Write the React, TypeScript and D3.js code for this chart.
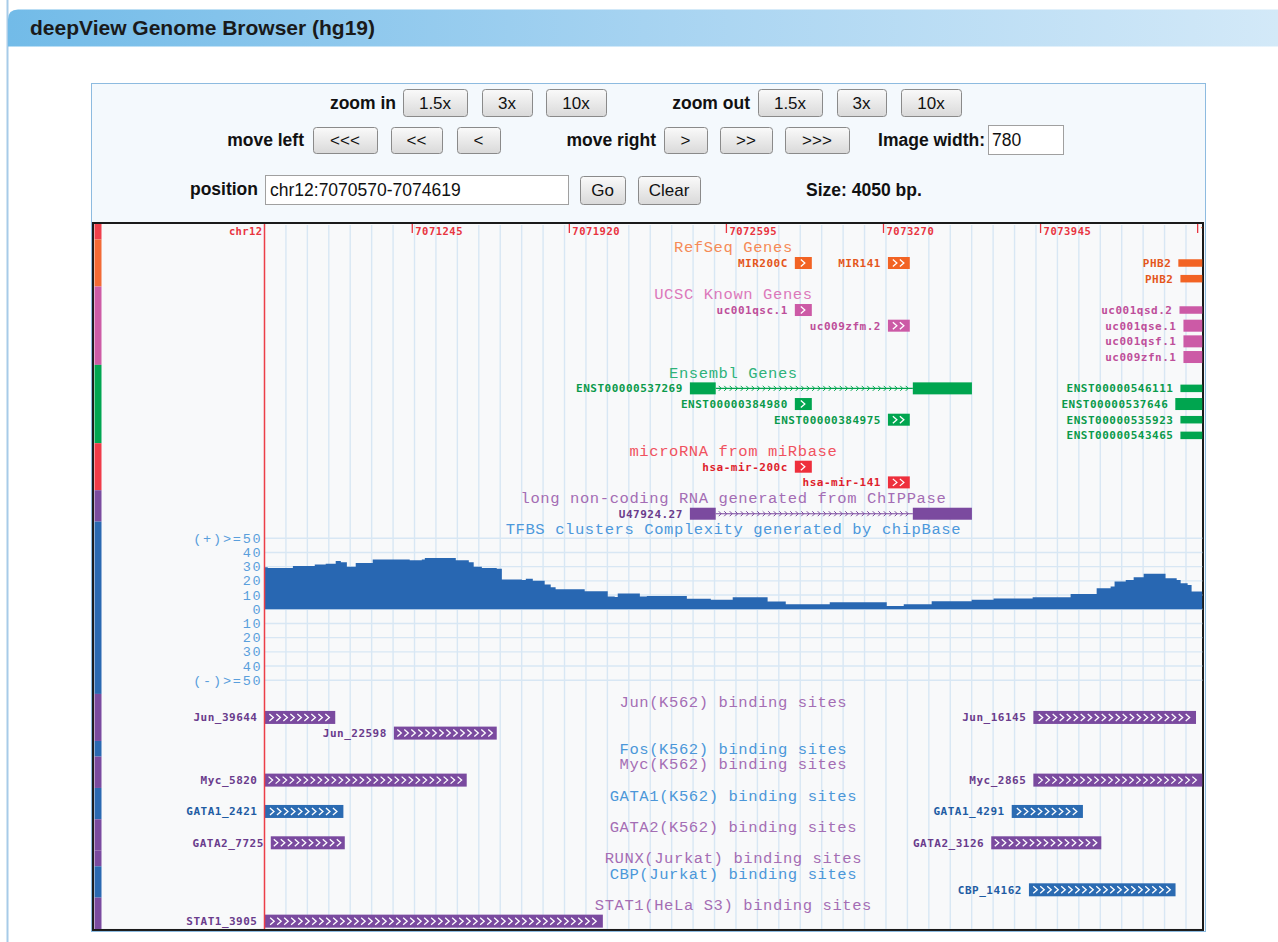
import React from "react";
import * as d3 from "d3";

// ---- data ----
const VIEW_START = 7070610;
const VIEW_END = 7074640;
const CHROM = "chr12";
const POSITION = "chr12:7070570-7074619";
const SIZE_BP = 4050;
const IMAGE_WIDTH = 780;

const rulerTicks = [7071245, 7071920, 7072595, 7073270, 7073945, 7074620];

type Feature = {
  name: string;
  start: number;
  end: number;
  lane: number;
  utr?: boolean;
  exons?: [number, number][];
};

const refSeqGenes: Feature[] = [
  { name: "MIR200C", start: 7072889, end: 7072962, lane: 0 },
  { name: "MIR141", start: 7073289, end: 7073383, lane: 0 },
  { name: "PHB2", start: 7074537, end: 7074700, lane: 0, utr: true },
  { name: "PHB2", start: 7074546, end: 7074700, lane: 1, utr: true },
];

const ucscGenes: Feature[] = [
  { name: "uc001qsc.1", start: 7072889, end: 7072962, lane: 0 },
  { name: "uc009zfm.2", start: 7073289, end: 7073383, lane: 1 },
  { name: "uc001qsd.2", start: 7074542, end: 7074700, lane: 0, utr: true },
  { name: "uc001qse.1", start: 7074559, end: 7074700, lane: 1 },
  { name: "uc001qsf.1", start: 7074559, end: 7074700, lane: 2 },
  { name: "uc009zfn.1", start: 7074559, end: 7074700, lane: 3 },
];

const ensemblGenes: Feature[] = [
  {
    name: "ENST00000537269",
    start: 7072438,
    end: 7073650,
    lane: 0,
    exons: [
      [7072438, 7072549],
      [7073396, 7073650],
    ],
  },
  { name: "ENST00000384980", start: 7072889, end: 7072962, lane: 1 },
  { name: "ENST00000384975", start: 7073289, end: 7073383, lane: 2 },
  { name: "ENST00000546111", start: 7074546, end: 7074700, lane: 0, utr: true },
  { name: "ENST00000537646", start: 7074524, end: 7074700, lane: 1 },
  { name: "ENST00000535923", start: 7074546, end: 7074700, lane: 2, utr: true },
  { name: "ENST00000543465", start: 7074546, end: 7074700, lane: 3, utr: true },
];

const mirnas: Feature[] = [
  { name: "hsa-mir-200c", start: 7072889, end: 7072962, lane: 0 },
  { name: "hsa-mir-141", start: 7073289, end: 7073383, lane: 1 },
];

const lncrnas: Feature[] = [
  {
    name: "U47924.27",
    start: 7072438,
    end: 7073650,
    lane: 0,
    exons: [
      [7072438, 7072549],
      [7073396, 7073650],
    ],
  },
];

// TFBS cluster complexity, [position, value]
const complexity: [number, number][] = [
  [7070607, 29.5], [7070624, 29], [7070732, 30.5], [7070826, 31.5], [7070873, 32],
  [7070916, 34], [7070938, 33], [7070964, 30], [7071002, 32.5], [7071075, 35],
  [7071234, 34.5], [7071286, 35], [7071299, 36], [7071432, 34.5], [7071488, 33],
  [7071509, 30], [7071544, 29], [7071608, 28.5], [7071630, 21], [7071716, 20.6],
  [7071733, 21.5], [7071763, 20], [7071814, 17.5], [7071840, 15.5], [7071861, 14],
  [7071986, 12.6], [7072085, 9], [7072115, 8.7], [7072128, 11], [7072223, 9],
  [7072253, 9.4], [7072425, 7.3], [7072528, 6.6], [7072622, 8.5], [7072772, 5.4],
  [7072850, 3.5], [7073039, 4.9], [7073284, 2.3], [7073357, 3.5], [7073477, 5.6],
  [7073649, 6.6], [7073743, 7.5], [7073911, 8.5], [7074074, 10.8], [7074186, 14.8],
  [7074246, 16], [7074263, 19.5], [7074311, 20.5], [7074345, 22.5], [7074388, 24.9],
  [7074482, 21.8], [7074530, 20.5], [7074547, 18.3], [7074577, 17], [7074594, 12.4],
  [7074641, 11],
];
const complexityTicks = [50, 40, 30, 20, 10, 0, -10, -20, -30, -40, -50];

const junSites: Feature[] = [
  { name: "Jun_39644", start: 7070500, end: 7070914, lane: 0 },
  { name: "Jun_22598", start: 7071166, end: 7071608, lane: 1 },
  { name: "Jun_16145", start: 7073914, end: 7074613, lane: 0 },
];
const fosSites: Feature[] = [];
const mycSites: Feature[] = [
  { name: "Myc_5820", start: 7070500, end: 7071479, lane: 0 },
  { name: "Myc_2865", start: 7073914, end: 7074700, lane: 0 },
];
const gata1Sites: Feature[] = [
  { name: "GATA1_2421", start: 7070500, end: 7070949, lane: 0 },
  { name: "GATA1_4291", start: 7073821, end: 7074127, lane: 0 },
];
const gata2Sites: Feature[] = [
  { name: "GATA2_7725", start: 7070637, end: 7070955, lane: 0 },
  { name: "GATA2_3126", start: 7073733, end: 7074206, lane: 0 },
];
const runxSites: Feature[] = [];
const cbpSites: Feature[] = [{ name: "CBP_14162", start: 7073895, end: 7074525, lane: 0 }];
const stat1Sites: Feature[] = [{ name: "STAT1_3905", start: 7070500, end: 7072064, lane: 0 }];

// ---- styling ----
const PURPLE = { bar: "#7a4a9f", label: "#6a3c8c", titleColor: "#a46db4", strip: "#7a4a9f" };
const BLUE = { bar: "#2b6bb2", label: "#1f5ca3", titleColor: "#4b97d9", strip: "#2a69b1" };

const geneTracks = [
  { title: "RefSeq Genes", features: refSeqGenes, lanes: 2, bar: "#f26324", label: "#e4561c", titleColor: "#f58b57", strip: "#f26a35" },
  { title: "UCSC Known Genes", features: ucscGenes, lanes: 4, bar: "#cc5aa6", label: "#be4f9a", titleColor: "#dc78ba", strip: "#cd5ca6" },
  { title: "Ensembl Genes", features: ensemblGenes, lanes: 4, bar: "#00a54f", label: "#0a9a4a", titleColor: "#2db27a", strip: "#00a651" },
  { title: "microRNA from miRbase", features: mirnas, lanes: 2, bar: "#ee2f3c", label: "#de1f2d", titleColor: "#f0525f", strip: "#ef3b49" },
  { title: "long non-coding RNA generated from ChIPPase", features: lncrnas, lanes: 1, bar: "#7b4a9f", label: "#6a3c8c", titleColor: "#a46db4", strip: "#7a4c9f" },
];

const bindingTracks = [
  { title: "Jun(K562) binding sites", features: junSites, lanes: 2, ...PURPLE },
  { title: "Fos(K562) binding sites", features: fosSites, lanes: 0, ...BLUE },
  { title: "Myc(K562) binding sites", features: mycSites, lanes: 1, ...PURPLE },
  { title: "GATA1(K562) binding sites", features: gata1Sites, lanes: 1, ...BLUE },
  { title: "GATA2(K562) binding sites", features: gata2Sites, lanes: 1, ...PURPLE },
  { title: "RUNX(Jurkat) binding sites", features: runxSites, lanes: 0, ...PURPLE },
  { title: "CBP(Jurkat) binding sites", features: cbpSites, lanes: 1, ...BLUE },
  { title: "STAT1(HeLa S3) binding sites", features: stat1Sites, lanes: 1, ...PURPLE },
];

const MONO = "'Liberation Mono', 'DejaVu Sans Mono', monospace";
const PIX = "'DejaVu Sans Mono', monospace";
const SANS = "'Liberation Sans', Arial, sans-serif";

const LINE = 15.67;
const Y0 = 239.5;
const lineTop = (i: number) => Y0 + i * LINE;
const lineMid = (i: number) => Y0 + (i + 0.5) * LINE;

function Button({ x, y, w, h, label }: { x: number; y: number; w: number; h: number; label: string }) {
  return (
    <g>
      <rect x={x + 0.5} y={y + 0.5} width={w} height={h} rx={3} fill="url(#btn)" stroke="#8a8a8a" />
      <text x={x + w / 2} y={y + h / 2 + 6} textAnchor="middle" fontSize={17} fontFamily={SANS} fill="#111">
        {label}
      </text>
    </g>
  );
}

export default function App() {
  const x = d3.scaleLinear().domain([VIEW_START, VIEW_END]).range([264.5, 1202.3]);
  const dataLeft = x(VIEW_START);
  const dataRight = x(VIEW_END);
  const mid = (dataLeft + dataRight) / 2;

  // line layout
  let line = 0;
  const genes = geneTracks.map((t) => {
    const b = { ...t, line };
    line += 1 + t.lanes;
    return b;
  });
  const tfbsLine = line;
  line += 11;
  const binding = bindingTracks.map((t) => {
    const b = { ...t, line };
    line += 1 + t.lanes;
    return b;
  });
  const totalLines = line;

  const yCov = d3
    .scaleLinear()
    .domain([-50, 50])
    .range([lineTop(tfbsLine + 1) + 1 + 142, lineTop(tfbsLine + 1) + 1]);
  const area = d3
    .area<[number, number]>()
    .x((d) => x(d[0]))
    .y0(yCov(0))
    .y1((d) => yCov(d[1]))
    .curve(d3.curveStepAfter);

  const gridStep = 21.43;
  const vGrid = d3.range(dataLeft + gridStep, dataRight, gridStep);

  const chevrons = (xs: number, w: number, cy: number, key: string) => {
    const n = Math.max(1, Math.floor((w - 4) / 7));
    const off = xs + (w - (n * 7 - 2)) / 2;
    return d3.range(n).map((i) => {
      const a = off + i * 7;
      return (
        <path
          key={key + i}
          d={`M${a},${cy - 3.5}L${a + 4},${cy}L${a},${cy + 3.5}`}
          fill="none"
          stroke="#fff"
          strokeWidth={1.3}
        />
      );
    });
  };

  const renderFeature = (
    f: Feature,
    cy: number,
    bar: string,
    label: string,
    thickH: number,
    arrowsAtEdge: boolean,
    key: string
  ) => {
    const xs = Math.max(x(f.start), dataLeft);
    const xe = Math.min(x(f.end), dataRight);
    const clippedRight = x(f.end) > dataRight;
    const els: React.ReactNode[] = [];
    if (f.exons) {
      const ex = f.exons;
      for (let i = 0; i < ex.length - 1; i++) {
        const a = x(ex[i][1]);
        const b = x(ex[i + 1][0]);
        els.push(<line key={key + "in" + i} x1={a} x2={b} y1={cy} y2={cy} stroke={bar} strokeWidth={1.2} />);
        const n = Math.floor((b - a - 4) / 5.5);
        d3.range(n).forEach((k) => {
          const p = a + 3 + k * 5.5;
          els.push(
            <path
              key={key + "ar" + i + "_" + k}
              d={`M${p},${cy - 2.5}L${p + 2.5},${cy}L${p},${cy + 2.5}`}
              fill="none"
              stroke={bar}
              strokeWidth={1}
            />
          );
        });
      }
      ex.forEach((e, i) =>
        els.push(
          <rect key={key + "ex" + i} x={x(e[0])} y={cy - thickH / 2} width={x(e[1]) - x(e[0])} height={thickH} fill={bar} />
        )
      );
    } else {
      const h = f.utr ? 7.5 : thickH;
      els.push(<rect key={key + "r"} x={xs} y={cy - h / 2} width={xe - xs} height={h} fill={bar} />);
      if (!f.utr && (arrowsAtEdge || !clippedRight)) els.push(...chevrons(xs, xe - xs, cy, key + "c"));
    }
    els.push(
      <text
        key={key + "t"}
        x={xs - 7}
        y={cy + 4}
        textAnchor="end"
        fontSize={11}
        fontWeight="bold"
        letterSpacing={0.5}
        fontFamily={PIX}
        fill={label}
      >
        {f.name}
      </text>
    );
    return <g key={key}>{els}</g>;
  };

  const title = (text: string, y: number, color: string, key: string) => (
    <text
      key={key}
      x={mid}
      y={y + 5}
      textAnchor="middle"
      fontSize={15.5}
      letterSpacing={0.6}
      fontFamily={MONO}
      fill={color}
    >
      {text}
    </text>
  );

  const trackTop = 222;
  const trackBottom = lineTop(totalLines);

  const strips: { y0: number; y1: number; color: string }[] = [
    { y0: trackTop + 2, y1: lineTop(0), color: "#ef3f4b" },
    ...genes.map((g) => ({ y0: lineTop(g.line), y1: lineTop(g.line + 1 + g.lanes), color: g.strip })),
    { y0: lineTop(tfbsLine), y1: lineTop(tfbsLine + 11), color: "#2a69b1" },
    ...binding.map((g) => ({ y0: lineTop(g.line), y1: lineTop(g.line + 1 + g.lanes), color: g.strip })),
  ];

  return (
    <svg
      width={1278}
      height={942}
      style={{ position: "absolute", left: 0, top: 0, background: "#fff" }}
      fontFamily={SANS}
    >
      <defs>
        <linearGradient id="hdr" x1="0" x2="1" y1="0" y2="0">
          <stop offset="0" stopColor="#72bbe8" />
          <stop offset="0.5" stopColor="#a6d3f1" />
          <stop offset="1" stopColor="#d3e9f8" />
        </linearGradient>
        <linearGradient id="btn" x1="0" x2="0" y1="0" y2="1">
          <stop offset="0" stopColor="#fafafa" />
          <stop offset="1" stopColor="#d9d9d9" />
        </linearGradient>
        <clipPath id="data">
          <rect x={dataLeft} y={trackTop} width={dataRight - dataLeft} height={trackBottom - trackTop} />
        </clipPath>
      </defs>

      {/* page frame + header */}
      <line x1={7.5} x2={7.5} y1={0} y2={942} stroke="#a7cbe8" strokeWidth={2} />
      <path d="M8,46.5 V19.5 Q8,9.5 18,9.5 H1278 V46.5 Z" fill="url(#hdr)" />
      <text x={30} y={35} fontSize={21} fontWeight="bold" fill="#1a1a1a">
        deepView Genome Browser (hg19)
      </text>

      {/* control panel */}
      <rect x={91.5} y={83.5} width={1114} height={848} fill="#f4f9fd" stroke="#8dbbe0" />
      <g fontSize={17.5} fontWeight="bold" fill="#111">
        <text x={396} y={109} textAnchor="end">zoom in</text>
        <text x={750} y={109} textAnchor="end">zoom out</text>
        <text x={304} y={146} textAnchor="end">move left</text>
        <text x={656} y={146} textAnchor="end">move right</text>
        <text x={985} y={146} textAnchor="end">Image width:</text>
        <text x={258} y={195} textAnchor="end">position</text>
        <text x={806} y={196}>Size: {SIZE_BP} bp.</text>
      </g>
      <Button x={403} y={89} w={64} h={27} label="1.5x" />
      <Button x={482} y={89} w={50} h={27} label="3x" />
      <Button x={546} y={89} w={60} h={27} label="10x" />
      <Button x={758} y={89} w={64} h={27} label="1.5x" />
      <Button x={837} y={89} w={49} h={27} label="3x" />
      <Button x={901} y={89} w={60} h={27} label="10x" />
      <Button x={313} y={127} w={64} h={26} label="<<<" />
      <Button x={391} y={127} w={51} h={26} label="<<" />
      <Button x={457} y={127} w={43} h={26} label="<" />
      <Button x={664} y={127} w={43} h={26} label=">" />
      <Button x={720} y={127} w={52} h={26} label=">>" />
      <Button x={785} y={127} w={64} h={26} label=">>>" />
      <rect x={988.5} y={125.5} width={75} height={29} fill="#fff" stroke="#a0a0a0" />
      <text x={992} y={146} fontSize={17.5} fill="#111">{IMAGE_WIDTH}</text>
      <rect x={265.5} y={175.5} width={303} height={29} fill="#fff" stroke="#a0a0a0" />
      <text x={270} y={196} fontSize={17.5} fill="#111">{POSITION}</text>
      <Button x={580} y={176} w={45} h={28} label="Go" />
      <Button x={638} y={176} w={62} h={28} label="Clear" />

      {/* track image */}
      <rect x={93} y={trackTop + 1} width={1110} height={trackBottom - trackTop} fill="#f8f9fa" stroke="#1a1a1a" strokeWidth={2} />
      {strips.map((s, i) => (
        <rect key={"s" + i} x={94.5} y={s.y0} width={7} height={s.y1 - s.y0} fill={s.color} />
      ))}

      {/* vertical grid */}
      {vGrid.map((gx, i) => (
        <line key={"vg" + i} x1={gx} x2={gx} y1={trackTop + 3} y2={trackBottom} stroke="#d8e7f4" strokeWidth={1.4} />
      ))}

      {/* ruler */}
      <g clipPath="url(#data)">
        {rulerTicks.map((t) => (
          <g key={"rt" + t}>
            <line x1={x(t)} x2={x(t)} y1={trackTop + 2} y2={trackTop + 11} stroke="#e8343f" strokeWidth={1.3} />
            <text x={x(t) + 3} y={trackTop + 12.5} fontSize={10.5} fontWeight="bold" letterSpacing={0.5} fontFamily={PIX} fill="#e8343f">
              {t}
            </text>
          </g>
        ))}
      </g>
      <text x={dataLeft - 2} y={trackTop + 12.5} textAnchor="end" fontSize={10.5} fontWeight="bold" letterSpacing={0.4} fontFamily={PIX} fill="#e8343f">
        {CHROM}
      </text>

      {/* gene tracks */}
      {genes.map((t, ti) => (
        <g key={"gt" + ti}>
          {title(t.title, lineMid(t.line), t.titleColor, "gtt" + ti)}
          {t.features.map((f, fi) =>
            renderFeature(f, lineMid(t.line + 1 + f.lane), t.bar, t.label, 12, false, "g" + ti + "_" + fi)
          )}
        </g>
      ))}

      {/* TFBS complexity */}
      {title("TFBS clusters Complexity generated by chipBase", lineMid(tfbsLine), "#4c98dc", "tfbs")}
      {complexityTicks.map((v) => (
        <line key={"hg" + v} x1={dataLeft} x2={dataRight} y1={yCov(v)} y2={yCov(v)} stroke="#d8e7f4" strokeWidth={1.4} />
      ))}
      <path d={area(complexity) ?? ""} fill="#2867b2" clipPath="url(#data)" />
      {complexityTicks.map((v) => (
        <text
          key={"yl" + v}
          x={dataLeft - 2}
          y={yCov(v) + 4.5}
          textAnchor="end"
          fontSize={13.5}
          letterSpacing={1.8}
          fontFamily={MONO}
          fill="#5a9fdc"
        >
          {v === 50 ? "(+)>=50" : v === -50 ? "(-)>=50" : Math.abs(v)}
        </text>
      ))}

      {/* binding sites */}
      {binding.map((t, ti) => (
        <g key={"bt" + ti}>
          {title(t.title, lineMid(t.line), t.titleColor, "btt" + ti)}
          {t.features.map((f, fi) =>
            renderFeature(f, lineMid(t.line + 1 + f.lane), t.bar, t.label, 13, true, "b" + ti + "_" + fi)
          )}
        </g>
      ))}

      {/* chr start line */}
      <line x1={dataLeft} x2={dataLeft} y1={trackTop + 2} y2={trackBottom} stroke="#ec3f47" strokeWidth={1.5} />
    </svg>
  );
}
